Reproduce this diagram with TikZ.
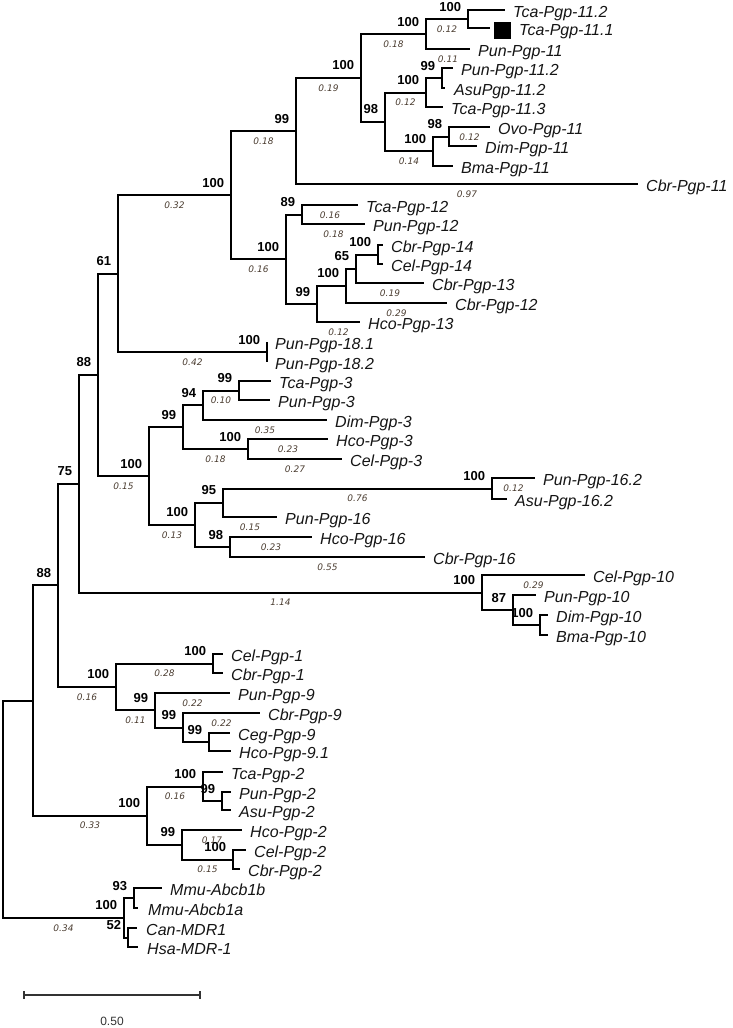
\documentclass[tikz,border=0pt]{standalone}
\usepackage{fontspec}
\setmainfont{Liberation Sans}
\newfontfamily\lenfam{DejaVu Sans}
\definecolor{lencol}{HTML}{4A3C30}
\definecolor{leafcol}{HTML}{151515}
\newcommand{\leaffont}{\fontsize{16}{18}\selectfont\itshape}
\newcommand{\bootfont}{\fontsize{13}{15}\selectfont\bfseries}
\newcommand{\lenfont}{\lenfam\fontsize{9}{10}\selectfont\itshape}
\newcommand{\tleaf}[4]{\coordinate (l#1) at (#2); \node[leaflab] (t#1) at ([shift={(#3pt,-7.5pt)}]l#1) {#4};}
\begin{document}
\begin{tikzpicture}[x=1pt,y=-1pt,
  branch/.style={line width=2pt, line join=miter},
  boot/.style={anchor=base east, font=\bootfont, xshift=-6pt, yshift=8pt, inner sep=0pt},
  blen/.style={pos=0.75, anchor=center, yshift=-10pt, font=\lenfont, text=lencol, inner sep=0pt},
  leaflab/.style={anchor=base west, font=\leaffont, text=leafcol, inner sep=0pt},
  scalebar/.style={line width=1.2pt, draw=black!80}]
\useasboundingbox (0,0) rectangle (733,1028);

% internal nodes
\coordinate (root) at (3,809);
\coordinate (nA) at (33,700.5);
\coordinate (nB) at (58,585.3);
\coordinate (nC) at (79,483.6);
\coordinate (nD) at (98,374.8);
\coordinate (nE) at (118,273.6);
\coordinate (nF) at (231,195.1);
\coordinate (nG) at (296,131);
\coordinate (nH) at (361,77.9);
\coordinate (nI) at (426,34);
\coordinate (nJ) at (468,19);
\coordinate (nK) at (385,121.9);
\coordinate (nL) at (426,92.5);
\coordinate (nM) at (442,78);
\coordinate (nN) at (433,151.25);
\coordinate (nO) at (449,136.5);
\coordinate (nP) at (286,259.25);
\coordinate (nQ) at (302,214.5);
\coordinate (nR) at (317,304);
\coordinate (nS) at (346,285.9);
\coordinate (nT) at (356,268.75);
\coordinate (nU) at (378,254.5);
\coordinate (nV) at (267,352);
\coordinate (nW) at (149,476);
\coordinate (nX) at (183,427.1);
\coordinate (nY) at (203,405.25);
\coordinate (nZ) at (239,390.5);
\coordinate (nAA) at (248,449);
\coordinate (nAB) at (195,524.9);
\coordinate (nAC) at (223,502.75);
\coordinate (nAD) at (492,488.5);
\coordinate (nAE) at (230,547);
\coordinate (nAF) at (482,592.5);
\coordinate (nAG) at (513,610);
\coordinate (nAH) at (540,625);
\coordinate (nAI) at (116,686.9);
\coordinate (nAJ) at (213,663.5);
\coordinate (nAK) at (155,710.25);
\coordinate (nAL) at (183,727.5);
\coordinate (nAM) at (209,742);
\coordinate (nAN) at (147,815.6);
\coordinate (nAO) at (203,786.5);
\coordinate (nAP) at (222,801);
\coordinate (nAQ) at (182,844.75);
\coordinate (nAR) at (233,859.5);
\coordinate (nAS) at (124,917.75);
\coordinate (nAT) at (134,898);
\coordinate (nAU) at (128,937.5);

% leaves
\tleaf{1}{505,10}{8}{Tca-Pgp-11.2}
\tleaf{2}{490,28}{29}{Tca-Pgp-11.1}
\tleaf{3}{470,49}{8}{Pun-Pgp-11}
\tleaf{4}{453,68}{8}{Pun-Pgp-11.2}
\tleaf{5}{445,88}{9}{AsuPgp-11.2}
\tleaf{6}{443,107}{8}{Tca-Pgp-11.3}
\tleaf{7}{490,127}{8}{Ovo-Pgp-11}
\tleaf{8}{477,146}{8}{Dim-Pgp-11}
\tleaf{9}{453,166}{8}{Bma-Pgp-11}
\tleaf{10}{638,184}{8}{Cbr-Pgp-11}
\tleaf{11}{358,205}{8}{Tca-Pgp-12}
\tleaf{12}{365,224}{8}{Pun-Pgp-12}
\tleaf{13}{383,245}{8}{Cbr-Pgp-14}
\tleaf{14}{383,264}{8}{Cel-Pgp-14}
\tleaf{15}{424,283}{8}{Cbr-Pgp-13}
\tleaf{16}{447,303}{8}{Cbr-Pgp-12}
\tleaf{17}{360,322}{8}{Hco-Pgp-13}
\tleaf{18}{267,342}{8}{Pun-Pgp-18.1}
\tleaf{19}{267,362}{8}{Pun-Pgp-18.2}
\tleaf{20}{271,381}{8}{Tca-Pgp-3}
\tleaf{21}{270,400}{8}{Pun-Pgp-3}
\tleaf{22}{327,420}{8}{Dim-Pgp-3}
\tleaf{23}{328,439}{8}{Hco-Pgp-3}
\tleaf{24}{342,459}{8}{Cel-Pgp-3}
\tleaf{25}{535,478}{8}{Pun-Pgp-16.2}
\tleaf{26}{507,499}{8}{Asu-Pgp-16.2}
\tleaf{27}{277,517}{8}{Pun-Pgp-16}
\tleaf{28}{312,537}{8}{Hco-Pgp-16}
\tleaf{29}{425,557}{8}{Cbr-Pgp-16}
\tleaf{30}{585,575}{8}{Cel-Pgp-10}
\tleaf{31}{536,595}{8}{Pun-Pgp-10}
\tleaf{32}{548,615}{8}{Dim-Pgp-10}
\tleaf{33}{548,635}{8}{Bma-Pgp-10}
\tleaf{34}{223,654}{8}{Cel-Pgp-1}
\tleaf{35}{223,673}{8}{Cbr-Pgp-1}
\tleaf{36}{230,693}{8}{Pun-Pgp-9}
\tleaf{37}{260,713}{8}{Cbr-Pgp-9}
\tleaf{38}{230,733}{8}{Ceg-Pgp-9}
\tleaf{39}{231,751}{8}{Hco-Pgp-9.1}
\tleaf{40}{223,772}{8}{Tca-Pgp-2}
\tleaf{41}{231,792}{8}{Pun-Pgp-2}
\tleaf{42}{231,810}{8}{Asu-Pgp-2}
\tleaf{43}{242,830}{8}{Hco-Pgp-2}
\tleaf{44}{246,850}{8}{Cel-Pgp-2}
\tleaf{45}{240,869}{8}{Cbr-Pgp-2}
\tleaf{46}{162,888}{8}{Mmu-Abcb1b}
\tleaf{47}{138,908}{10}{Mmu-Abcb1a}
\tleaf{48}{137,928}{9}{Can-MDR1}
\tleaf{49}{138,947}{9}{Hsa-MDR-1}

% marker
\node[fill=black, minimum size=17pt, inner sep=0pt] (sq) at (502,30) {};

% branches
\draw[branch] (root) |- (nA);
\draw[branch] (root) |- (nAS) node[boot,pos=1]{100} node[blen]{0.34};
\draw[branch] (nA) |- (nB) node[boot,pos=1]{88};
\draw[branch] (nA) |- (nAN) node[boot,pos=1]{100} node[blen]{0.33};
\draw[branch] (nB) |- (nC) node[boot,pos=1]{75};
\draw[branch] (nB) |- (nAI) node[boot,pos=1]{100} node[blen]{0.16};
\draw[branch] (nC) |- (nD) node[boot,pos=1]{88};
\draw[branch] (nC) |- (nAF) node[boot,pos=1]{100} node[blen]{1.14};
\draw[branch] (nD) |- (nE) node[boot,pos=1]{61};
\draw[branch] (nD) |- (nW) node[boot,pos=1]{100} node[blen]{0.15};
\draw[branch] (nE) |- (nF) node[boot,pos=1]{100} node[blen]{0.32};
\draw[branch] (nE) |- (nV) node[boot,pos=1]{100} node[blen]{0.42};
\draw[branch] (nF) |- (nG) node[boot,pos=1]{99} node[blen]{0.18};
\draw[branch] (nF) |- (nP) node[boot,pos=1]{100} node[blen]{0.16};
\draw[branch] (nG) |- (nH) node[boot,pos=1]{100} node[blen]{0.19};
\draw[branch] (nG) |- (l10) node[blen]{0.97};
\draw[branch] (nH) |- (nI) node[boot,pos=1]{100} node[blen]{0.18};
\draw[branch] (nH) |- (nK) node[boot,pos=1]{98};
\draw[branch] (nI) |- (nJ) node[boot,pos=1]{100} node[blen]{0.12};
\draw[branch] (nI) |- (l3) node[blen]{0.11};
\draw[branch] (nJ) |- (l1);
\draw[branch] (nJ) |- (l2);
\draw[branch] (nK) |- (nL) node[boot,pos=1]{100} node[blen]{0.12};
\draw[branch] (nK) |- (nN) node[boot,pos=1]{100} node[blen]{0.14};
\draw[branch] (nL) |- (nM) node[boot,pos=1]{99};
\draw[branch] (nL) |- (l6);
\draw[branch] (nM) |- (l4);
\draw[branch] (nM) |- (l5);
\draw[branch] (nN) |- (nO) node[boot,pos=1]{98};
\draw[branch] (nN) |- (l9);
\draw[branch] (nO) |- (l7) node[blen]{0.12};
\draw[branch] (nO) |- (l8);
\draw[branch] (nP) |- (nQ) node[boot,pos=1]{89};
\draw[branch] (nP) |- (nR) node[boot,pos=1]{99};
\draw[branch] (nQ) |- (l11) node[blen]{0.16};
\draw[branch] (nQ) |- (l12) node[blen]{0.18};
\draw[branch] (nR) |- (nS) node[boot,pos=1]{100};
\draw[branch] (nR) |- (l17) node[blen]{0.12};
\draw[branch] (nS) |- (nT) node[boot,pos=1]{65};
\draw[branch] (nS) |- (l16) node[blen]{0.29};
\draw[branch] (nT) |- (nU) node[boot,pos=1]{100};
\draw[branch] (nT) |- (l15) node[blen]{0.19};
\draw[branch] (nU) |- (l13);
\draw[branch] (nU) |- (l14);
\draw[branch] (nV) |- (l18);
\draw[branch] (nV) |- (l19);
\draw[branch] (nW) |- (nX) node[boot,pos=1]{99};
\draw[branch] (nW) |- (nAB) node[boot,pos=1]{100} node[blen]{0.13};
\draw[branch] (nX) |- (nY) node[boot,pos=1]{94};
\draw[branch] (nX) |- (nAA) node[boot,pos=1]{100} node[blen]{0.18};
\draw[branch] (nY) |- (nZ) node[boot,pos=1]{99} node[blen]{0.10};
\draw[branch] (nY) |- (l22) node[blen]{0.35};
\draw[branch] (nZ) |- (l20);
\draw[branch] (nZ) |- (l21);
\draw[branch] (nAA) |- (l23) node[blen]{0.23};
\draw[branch] (nAA) |- (l24) node[blen]{0.27};
\draw[branch] (nAB) |- (nAC) node[boot,pos=1]{95};
\draw[branch] (nAB) |- (nAE) node[boot,pos=1]{98};
\draw[branch] (nAC) |- (nAD) node[boot,pos=1]{100} node[blen]{0.76};
\draw[branch] (nAC) |- (l27) node[blen]{0.15};
\draw[branch] (nAD) |- (l25) node[blen]{0.12};
\draw[branch] (nAD) |- (l26);
\draw[branch] (nAE) |- (l28) node[blen]{0.23};
\draw[branch] (nAE) |- (l29) node[blen]{0.55};
\draw[branch] (nAF) |- (l30) node[blen]{0.29};
\draw[branch] (nAF) |- (nAG) node[boot,pos=1]{87};
\draw[branch] (nAG) |- (l31);
\draw[branch] (nAG) |- (nAH) node[boot,pos=1]{100};
\draw[branch] (nAH) |- (l32);
\draw[branch] (nAH) |- (l33);
\draw[branch] (nAI) |- (nAJ) node[boot,pos=1]{100} node[blen]{0.28};
\draw[branch] (nAI) |- (nAK) node[boot,pos=1]{99} node[blen]{0.11};
\draw[branch] (nAJ) |- (l34);
\draw[branch] (nAJ) |- (l35);
\draw[branch] (nAK) |- (l36) node[blen]{0.22};
\draw[branch] (nAK) |- (nAL) node[boot,pos=1]{99};
\draw[branch] (nAL) |- (l37) node[blen]{0.22};
\draw[branch] (nAL) |- (nAM) node[boot,pos=1]{99};
\draw[branch] (nAM) |- (l38);
\draw[branch] (nAM) |- (l39);
\draw[branch] (nAN) |- (nAO) node[boot,pos=1]{100} node[blen]{0.16};
\draw[branch] (nAN) |- (nAQ) node[boot,pos=1]{99};
\draw[branch] (nAO) |- (l40);
\draw[branch] (nAO) |- (nAP) node[boot,pos=1]{99};
\draw[branch] (nAP) |- (l41);
\draw[branch] (nAP) |- (l42);
\draw[branch] (nAQ) |- (l43) node[blen]{0.17};
\draw[branch] (nAQ) |- (nAR) node[boot,pos=1]{100} node[blen]{0.15};
\draw[branch] (nAR) |- (l44);
\draw[branch] (nAR) |- (l45);
\draw[branch] (nAS) |- (nAT) node[boot,pos=1]{93};
\draw[branch] (nAS) |- (nAU) node[boot,pos=1]{52};
\draw[branch] (nAT) |- (l46);
\draw[branch] (nAT) |- (l47);
\draw[branch] (nAU) |- (l48);
\draw[branch] (nAU) |- (l49);

% scale bar
\coordinate (sb1) at (24,995);
\coordinate (sb2) at (200,995);
\draw[scalebar] (sb1) -- (sb2);
\draw[scalebar] ([yshift=4pt]sb1) -- ([yshift=-4pt]sb1);
\draw[scalebar] ([yshift=4pt]sb2) -- ([yshift=-4pt]sb2);
\node[font=\fontsize{12}{14}\selectfont, text=black!80, inner sep=0pt] (sbl) at (112,1021) {0.50};
\end{tikzpicture}
\end{document}
